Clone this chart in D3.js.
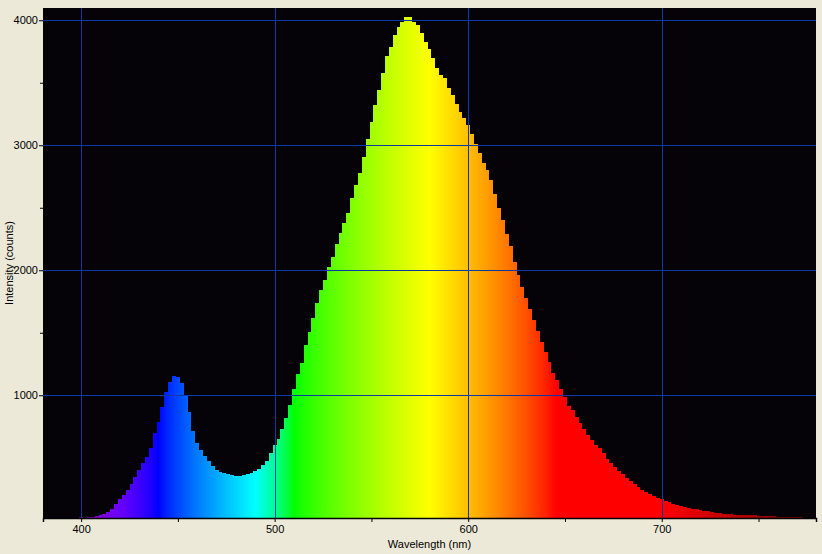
<!DOCTYPE html>
<html>
<head>
<meta charset="utf-8">
<script src="https://cdn.jsdelivr.net/npm/d3@7"></script>
<style>
  html, body { margin: 0; padding: 0; background: #ECE9D8; }
  svg { display: block; }
  text { font-family: Tahoma, "Liberation Sans", Arial, sans-serif; font-size: 11px; fill: #000; }
</style>
</head>
<body>
<svg id="chart" width="822" height="554"></svg>
<script>
// ---- data ----
const wavelengths = d3.range(380, 781, 2); // nm, sampling grid
const intensity = [
  0,0,0,0,0,22,0,0,20,22,
  24,22,26,30,34,40,52,70,90,130,
  170,205,240,290,350,405,455,510,575,700,
  790,905,1030,1105,1155,1145,1095,995,870,715,
  615,560,515,478,435,400,384,378,370,364,
  358,354,362,370,378,392,412,440,472,540,
  602,650,730,820,925,1050,1170,1260,1400,1505,
  1620,1735,1840,1922,2025,2110,2210,2300,2380,2456,
  2580,2680,2780,2905,3050,3185,3320,3445,3580,3712,
  3790,3880,3945,3985,4030,4025,3985,3960,3895,3830,
  3770,3700,3620,3565,3535,3460,3400,3330,3270,3215,
  3160,3090,3010,2936,2860,2800,2720,2610,2500,2400,
  2290,2195,2065,1960,1870,1780,1690,1600,1515,1430,
  1350,1265,1180,1120,1050,990,915,880,830,780,
  730,685,645,605,578,540,490,455,428,395,
  368,342,318,292,270,245,226,210,194,182,
  170,155,143,132,121,114,106,98,93,87,
  82,77,72,66,61,56,54,51,49,46,
  43,42,41,40,39,37,36,35,34,32,
  30,28,27,26,25,24,23,22,22,21,
  20
];
const xTicks = [400, 500, 600, 700];
const xMinorTicks = [450, 550, 650, 750];
const yTicks = [1000, 2000, 3000, 4000];
const yMinorTicks = [1500, 2500, 3500];
const xDomain = [380.3, 779.7];
const yDomain = [18, 4098];
const xTitle = "Wavelength (nm)";
const yTitle = "Intensity (counts)";

// ---- layout ----
const plot = { left: 43, right: 816, top: 8, bottom: 518 };
const svg = d3.select("#chart");

const x = d3.scaleLinear().domain(xDomain).range([plot.left, plot.right]);
const y = d3.scaleLinear().domain(yDomain).range([plot.bottom, plot.top]);

// wavelength -> visible colour (Bruton approximation)
function spectrumColor(w) {
  let r = 0, g = 0, b = 0;
  if (w < 440) { r = -(w - 440) / 60; b = 1; }
  else if (w < 490) { g = (w - 440) / 50; b = 1; }
  else if (w < 510) { g = 1; b = -(w - 510) / 20; }
  else if (w < 580) { r = (w - 510) / 70; g = 1; }
  else if (w < 645) { r = 1; g = -(w - 645) / 65; }
  else { r = 1; }
  let f = 1;
  if (w < 420) f = 0.3 + 0.7 * (w - 380) / 40;
  else if (w > 700) f = 0.3 + 0.7 * (780 - w) / 80;
  const adj = c => c <= 0 ? 0 : Math.round(255 * Math.pow(c * f, 0.8));
  return d3.rgb(adj(r), adj(g), adj(b)).toString();
}

const defs = svg.append("defs");
defs.append("clipPath").attr("id", "clip")
  .append("rect")
  .attr("x", plot.left).attr("y", plot.top)
  .attr("width", plot.right - plot.left).attr("height", plot.bottom - plot.top);

const grad = defs.append("linearGradient")
  .attr("id", "spec").attr("gradientUnits", "userSpaceOnUse")
  .attr("x1", x(380)).attr("x2", x(780)).attr("y1", 0).attr("y2", 0);
wavelengths.forEach(w => {
  grad.append("stop")
    .attr("offset", (w - 380) / 400)
    .attr("stop-color", spectrumColor(w));
});

// plot background
svg.append("rect")
  .attr("x", plot.left).attr("y", plot.top)
  .attr("width", plot.right - plot.left).attr("height", plot.bottom - plot.top)
  .attr("fill", "#050308");

const data = wavelengths.map((w, i) => ({ w, v: intensity[i] }));

const area = d3.area()
  .curve(d3.curveStep)
  .x(d => x(d.w))
  .y0(plot.bottom)
  .y1(d => y(Math.max(d.v, yDomain[0])));

svg.append("g").attr("clip-path", "url(#clip)")
  .append("path")
  .datum(data)
  .attr("d", area)
  .attr("fill", "url(#spec)")
  .attr("shape-rendering", "crispEdges");

// grid (on top of the spectrum)
const grid = svg.append("g").attr("clip-path", "url(#clip)");
grid.selectAll(".vg").data(xTicks).join("line")
  .attr("x1", d => Math.round(x(d)) + 0.5).attr("x2", d => Math.round(x(d)) + 0.5)
  .attr("y1", plot.top).attr("y2", plot.bottom)
  .attr("stroke", "#0b3aa8").attr("stroke-width", 1);
grid.selectAll(".hg").data(yTicks).join("line")
  .attr("y1", d => Math.round(y(d)) + 0.5).attr("y2", d => Math.round(y(d)) + 0.5)
  .attr("x1", plot.left).attr("x2", plot.right)
  .attr("stroke", "#0b3aa8").attr("stroke-width", 1);

// x axis
const xAxis = svg.append("g").attr("transform", `translate(0,${plot.bottom})`)
  .call(d3.axisBottom(x).tickValues(xTicks).tickFormat(d3.format("d")).tickSize(4).tickPadding(3));
xAxis.select(".domain").attr("stroke", "#000").attr("stroke-width", 1.5);
xAxis.selectAll("text").style("font-size", "11px");
svg.append("g").attr("transform", `translate(0,${plot.bottom})`)
  .call(d3.axisBottom(x).tickValues(xMinorTicks).tickFormat("").tickSize(4))
  .select(".domain").remove();

// y axis
const yAxis = svg.append("g").attr("transform", `translate(${plot.left},0)`)
  .call(d3.axisLeft(y).tickValues(yTicks).tickFormat(d3.format("d")).tickSize(4).tickPadding(1));
yAxis.select(".domain").remove();
yAxis.selectAll("text").style("font-size", "11px");
svg.append("g").attr("transform", `translate(${plot.left},0)`)
  .call(d3.axisLeft(y).tickValues(yMinorTicks).tickFormat("").tickSize(3))
  .select(".domain").remove();

// titles
svg.append("text")
  .attr("x", (plot.left + plot.right) / 2).attr("y", 548)
  .attr("text-anchor", "middle")
  .text(xTitle);
svg.append("text")
  .attr("transform", `translate(13,${(plot.top + plot.bottom) / 2}) rotate(-90)`)
  .attr("text-anchor", "middle")
  .text(yTitle);
</script>
</body>
</html>
